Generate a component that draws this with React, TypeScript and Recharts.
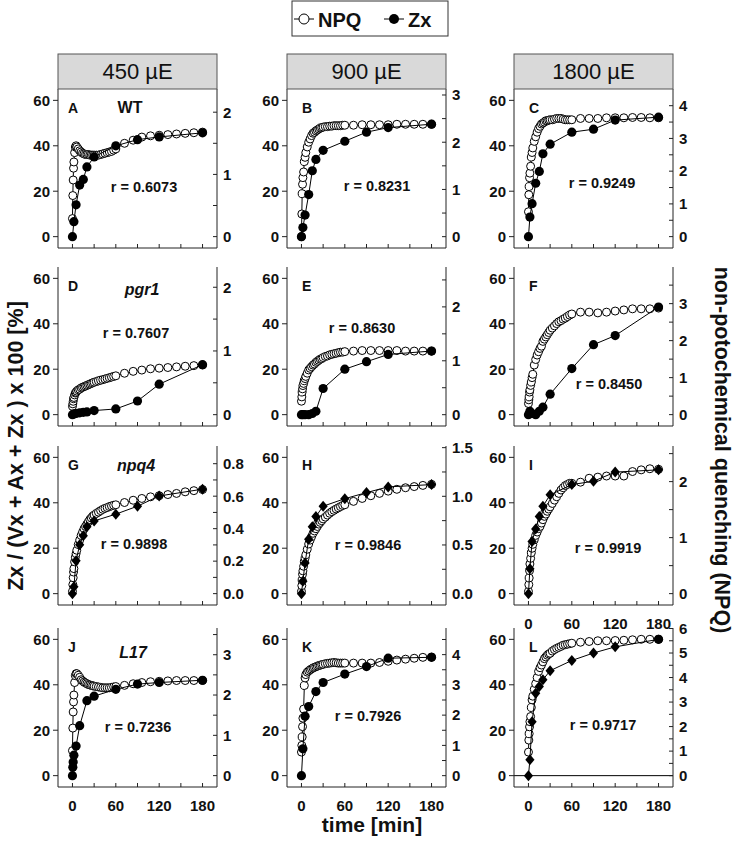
import React from 'react';
import { ComposedChart, Scatter, XAxis, YAxis, ReferenceLine } from 'recharts';

// ---------- time bases ----------
const NPQ_T = [0, 0.5, 1, 1.5, 2, 3, 4, 5, 6, 8, 10, 12, 14, 16, 18, 20, 22, 24, 26, 28, 30, 33, 36, 39, 42, 45, 48, 51, 54, 57, 60, 72, 84, 96, 108, 120, 132, 144, 156, 168, 180];
const ZX_T = [0, 2, 5, 10, 15, 20, 30, 60, 90, 120, 180];
const ZX_T_J = [0, 0.5, 1, 2, 5, 10, 20, 30, 60, 90, 120, 180];
const ZX_T_K = [0, 2, 5, 10, 20, 30, 60, 90, 120, 180];

// ---------- axis ticks ----------
const X_TICKS = [0, 30, 60, 90, 120, 150, 180];
const X_LABELS = [0, 60, 120, 180];
const LEFT_TICKS = [0, 20, 40, 60];
const LEFT_MINOR = [10, 30, 50];
const LIGHTS = ['450 µE', '900 µE', '1800 µE'];
const GENOTYPES = ['WT', 'pgr1', 'npq4', 'L17'];

const rTicksA = [0, 0.5, 1, 1.5, 2];
const rTicksB = [0, 0.5, 1, 1.5, 2, 2.5, 3];
const rTicksC = [0, 0.5, 1, 1.5, 2, 2.5, 3, 3.5, 4];
const rTicksD = [0, 0.5, 1, 1.5, 2];
const rTicksE = [0, 0.5, 1, 1.5, 2, 2.5];
const rTicksF = [0, 0.5, 1, 1.5, 2, 2.5, 3, 3.5];
const rTicksG = [0, 0.1, 0.2, 0.3, 0.4, 0.5, 0.6, 0.7, 0.8];
const rTicksH = [0, 0.25, 0.5, 0.75, 1, 1.25, 1.5];
const rTicksI = [0, 0.5, 1, 1.5, 2, 2.5];
const rTicksJ = [0, 0.5, 1, 1.5, 2, 2.5, 3, 3.5];
const rTicksK = [0, 0.5, 1, 1.5, 2, 2.5, 3, 3.5, 4, 4.5];
const rTicksL = [0, 0.5, 1, 1.5, 2, 2.5, 3, 3.5, 4, 4.5, 5, 5.5, 6];

// ---------- NPQ series (right axis units) ----------
const npqA = [0.29, 0.66, 0.91, 1.10, 1.20, 1.35, 1.44, 1.46, 1.44, 1.41, 1.38, 1.36, 1.34, 1.33, 1.32, 1.32, 1.32, 1.31, 1.31, 1.31, 1.31, 1.31, 1.31, 1.32, 1.33, 1.34, 1.35, 1.36, 1.37, 1.39, 1.41, 1.50, 1.55, 1.60, 1.62, 1.63, 1.64, 1.65, 1.66, 1.67, 1.68];
const npqB = [0, 0.48, 0.91, 1.11, 1.25, 1.37, 1.59, 1.68, 1.78, 1.90, 2.00, 2.07, 2.14, 2.19, 2.21, 2.24, 2.26, 2.28, 2.30, 2.31, 2.32, 2.33, 2.33, 2.34, 2.34, 2.35, 2.35, 2.35, 2.35, 2.36, 2.36, 2.36, 2.37, 2.37, 2.37, 2.37, 2.38, 2.38, 2.38, 2.38, 2.38];
const npqC = [0.76, 1.28, 1.53, 1.80, 1.94, 2.15, 2.43, 2.57, 2.71, 2.91, 3.05, 3.19, 3.30, 3.37, 3.44, 3.47, 3.50, 3.54, 3.54, 3.56, 3.57, 3.57, 3.59, 3.61, 3.61, 3.61, 3.59, 3.57, 3.57, 3.57, 3.57, 3.61, 3.61, 3.61, 3.63, 3.63, 3.63, 3.64, 3.64, 3.63, 3.63];
const npqD = [0.13, 0.17, 0.21, 0.25, 0.27, 0.31, 0.34, 0.35, 0.37, 0.39, 0.40, 0.42, 0.43, 0.44, 0.45, 0.46, 0.47, 0.48, 0.49, 0.50, 0.51, 0.52, 0.53, 0.54, 0.55, 0.56, 0.57, 0.58, 0.59, 0.60, 0.61, 0.65, 0.68, 0.70, 0.72, 0.73, 0.74, 0.75, 0.76, 0.77, 0.78];
const npqE = [0.25, 0.33, 0.42, 0.48, 0.54, 0.58, 0.63, 0.67, 0.71, 0.77, 0.83, 0.86, 0.89, 0.92, 0.94, 0.97, 0.99, 1.01, 1.03, 1.04, 1.06, 1.08, 1.09, 1.11, 1.12, 1.13, 1.14, 1.15, 1.16, 1.16, 1.17, 1.18, 1.19, 1.19, 1.19, 1.19, 1.19, 1.18, 1.18, 1.18, 1.18];
const npqF = [0.30, 0.40, 0.48, 0.61, 0.67, 0.79, 0.88, 1.00, 1.09, 1.34, 1.49, 1.61, 1.70, 1.79, 1.85, 1.98, 2.04, 2.10, 2.16, 2.22, 2.28, 2.34, 2.40, 2.46, 2.51, 2.54, 2.58, 2.61, 2.65, 2.69, 2.72, 2.77, 2.77, 2.75, 2.77, 2.80, 2.83, 2.86, 2.86, 2.86, 2.88];
const npqG = [0.014, 0.056, 0.098, 0.133, 0.154, 0.196, 0.224, 0.246, 0.267, 0.302, 0.330, 0.358, 0.379, 0.400, 0.414, 0.428, 0.442, 0.456, 0.466, 0.477, 0.484, 0.494, 0.502, 0.511, 0.519, 0.525, 0.530, 0.536, 0.540, 0.544, 0.547, 0.561, 0.575, 0.586, 0.596, 0.603, 0.610, 0.617, 0.627, 0.634, 0.641];
const npqH = [0.023, 0.082, 0.140, 0.199, 0.234, 0.281, 0.328, 0.363, 0.398, 0.456, 0.510, 0.550, 0.585, 0.620, 0.644, 0.667, 0.690, 0.714, 0.732, 0.749, 0.768, 0.786, 0.807, 0.826, 0.842, 0.856, 0.870, 0.882, 0.894, 0.906, 0.913, 0.948, 0.978, 1.006, 1.030, 1.053, 1.072, 1.088, 1.100, 1.112, 1.123];
const npqI = [0.04, 0.16, 0.28, 0.41, 0.53, 0.63, 0.73, 0.81, 0.88, 0.96, 1.04, 1.10, 1.16, 1.20, 1.26, 1.32, 1.38, 1.42, 1.47, 1.51, 1.55, 1.61, 1.67, 1.73, 1.79, 1.85, 1.89, 1.93, 1.95, 1.97, 1.97, 1.99, 2.06, 2.08, 2.10, 2.10, 2.10, 2.18, 2.21, 2.23, 2.22];
const npqJ = [0.62, 1.18, 1.58, 1.83, 2.00, 2.31, 2.48, 2.53, 2.53, 2.49, 2.44, 2.38, 2.35, 2.32, 2.30, 2.28, 2.26, 2.25, 2.24, 2.23, 2.22, 2.21, 2.20, 2.19, 2.18, 2.18, 2.18, 2.18, 2.19, 2.20, 2.21, 2.24, 2.28, 2.31, 2.33, 2.34, 2.35, 2.36, 2.36, 2.36, 2.36];
const npqK = [0.78, 1.00, 1.28, 1.62, 1.90, 2.20, 2.98, 3.23, 3.34, 3.42, 3.46, 3.50, 3.53, 3.56, 3.58, 3.60, 3.62, 3.64, 3.65, 3.67, 3.68, 3.70, 3.71, 3.72, 3.73, 3.74, 3.73, 3.72, 3.72, 3.72, 3.72, 3.72, 3.72, 3.72, 3.74, 3.78, 3.82, 3.85, 3.88, 3.91, 3.92];
const npqL = [0.96, 1.45, 1.71, 1.99, 2.20, 2.41, 2.78, 3.09, 3.24, 3.52, 3.75, 4.00, 4.25, 4.40, 4.51, 4.64, 4.77, 4.84, 4.91, 4.96, 4.99, 5.08, 5.14, 5.19, 5.23, 5.27, 5.32, 5.34, 5.36, 5.38, 5.40, 5.44, 5.47, 5.50, 5.50, 5.51, 5.52, 5.54, 5.56, 5.56, 5.56];

// ---------- Zx series (% , left axis) ----------
const zxA = [0, 6.6, 14, 22.7, 25.2, 30.7, 35.1, 40, 42.7, 43.9, 45.7];
const zxB = [0, 4, 9.5, 18.5, 29, 34, 38, 42, 46, 48, 49.5];
const zxC = [0, 8.6, 14.5, 23.5, 28.7, 36.5, 40.7, 46, 47.3, 51.3, 52.6];
const zxD = [0, 0.3, 0.5, 0.8, 1.0, 1.2, 1.8, 2.5, 6, 13.4, 22];
const zxE = [0, 0, 0, 0, 0.5, 1.5, 11.5, 20, 23.3, 26.5, 28];
const zxF = [0, 1.5, 0.5, 0, 1.5, 3.3, 9, 20.3, 30.8, 34.8, 47.4];
const zxG = [0, 3, 14.5, 21.5, 25.5, 29.5, 32, 35, 38.5, 43, 46];
const zxH = [0, 5.5, 13.5, 24, 29.5, 34, 38.5, 41.8, 44.5, 47, 48];
const zxI = [0, 11, 23, 28.5, 34, 38.5, 43.5, 48, 49.5, 53.5, 54.5];
const zxJ = [0, 3.7, 6, 9, 13, 22, 33, 35, 38, 40.3, 41, 42];
const zxK = [0, 11.8, 26.2, 30.4, 37, 41, 44.7, 48, 51.7, 52.1];
const zxL = [0, 7, 23.7, 36.3, 39.3, 42.2, 46.2, 50.7, 54, 56.7, 60];

const R_VALUES = ['0.6073', '0.8231', '0.9249', '0.7607', '0.8630', '0.8450', '0.9898', '0.9846', '0.9919', '0.7236', '0.7926', '0.9717'];

// ---------- layout ----------
const PLOT = 159;
const COL_X = [58, 287, 514];
const ROW_Y = [89, 267, 446, 628];
const LEFT_W = 45;
const RIGHT_W = 40;
const TOP_M = 12;
const BOTTOM_H = 34;
const FONT = '"Liberation Sans", Arial, Helvetica, sans-serif';

type Panel = {
  id: string; row: number; col: number;
  npq: number[]; zxT: number[]; zx: number[];
  rDom: [number, number]; rTicks: number[]; rMajor: number[]; dec: number;
  rx: number; ry: number; mark: 'circle' | 'diamond';
  xLabels: boolean; zeroLine?: boolean; lastCircle?: boolean;
};

const PANELS: Panel[] = [
  { id: 'A', row: 0, col: 0, npq: npqA, zxT: ZX_T, zx: zxA, rDom: [-0.183, 2.373], rTicks: rTicksA, rMajor: [0, 1, 2], dec: 0, rx: 86, ry: 98, mark: 'circle', xLabels: false },
  { id: 'B', row: 0, col: 1, npq: npqB, zxT: ZX_T, zx: zxB, rDom: [-0.24, 3.127], rTicks: rTicksB, rMajor: [0, 1, 2, 3], dec: 0, rx: 90, ry: 97, mark: 'circle', xLabels: false },
  { id: 'C', row: 0, col: 2, npq: npqC, zxT: ZX_T, zx: zxC, rDom: [-0.347, 4.51], rTicks: rTicksC, rMajor: [0, 1, 2, 3, 4], dec: 0, rx: 88, ry: 94, mark: 'circle', xLabels: false },
  { id: 'D', row: 1, col: 0, npq: npqD, zxT: ZX_T, zx: zxD, rDom: [-0.178, 2.318], rTicks: rTicksD, rMajor: [0, 1, 2], dec: 0, rx: 78, ry: 66, mark: 'circle', xLabels: false },
  { id: 'E', row: 1, col: 1, npq: npqE, zxT: ZX_T, zx: zxE, rDom: [-0.21, 2.74], rTicks: rTicksE, rMajor: [0, 1, 2], dec: 0, rx: 75, ry: 61, mark: 'circle', xLabels: false },
  { id: 'F', row: 1, col: 2, npq: npqF, zxT: ZX_T, zx: zxF, rDom: [-0.307, 3.99], rTicks: rTicksF, rMajor: [0, 1, 2, 3], dec: 0, rx: 95, ry: 117, mark: 'circle', xLabels: false },
  { id: 'G', row: 2, col: 0, npq: npqG, zxT: ZX_T, zx: zxG, rDom: [-0.07, 0.909], rTicks: rTicksG, rMajor: [0, 0.2, 0.4, 0.6, 0.8], dec: 1, rx: 76, ry: 98, mark: 'diamond', xLabels: false },
  { id: 'H', row: 2, col: 1, npq: npqH, zxT: ZX_T, zx: zxH, rDom: [-0.117, 1.517], rTicks: rTicksH, rMajor: [0, 0.5, 1, 1.5], dec: 1, rx: 81, ry: 99, mark: 'diamond', xLabels: false },
  { id: 'I', row: 2, col: 2, npq: npqI, zxT: ZX_T, zx: zxI, rDom: [-0.203, 2.636], rTicks: rTicksI, rMajor: [0, 1, 2], dec: 0, rx: 94, ry: 102, mark: 'diamond', xLabels: true },
  { id: 'J', row: 3, col: 0, npq: npqJ, zxT: ZX_T_J, zx: zxJ, rDom: [-0.282, 3.663], rTicks: rTicksJ, rMajor: [0, 1, 2, 3], dec: 0, rx: 80, ry: 99, mark: 'circle', xLabels: true },
  { id: 'K', row: 3, col: 1, npq: npqK, zxT: ZX_T_K, zx: zxK, rDom: [-0.375, 4.88], rTicks: rTicksK, rMajor: [0, 1, 2, 3, 4], dec: 0, rx: 81, ry: 88, mark: 'circle', xLabels: true },
  { id: 'L', row: 3, col: 2, npq: npqL, zxT: ZX_T, zx: zxL, rDom: [-0.463, 6.02], rTicks: rTicksL, rMajor: [0, 1, 2, 3, 4, 5, 6], dec: 0, rx: 89, ry: 97, mark: 'diamond', xLabels: true, zeroLine: true, lastCircle: true },
];

const GENO_POS = [
  { cx: 72, by: 24, italic: false },
  { cx: 84, by: 28, italic: true },
  { cx: 78, by: 25, italic: true },
  { cx: 75, by: 30, italic: true },
];

const tickStyle = { fontSize: 15, fontWeight: 700, fill: '#111', fontFamily: FONT };

const OpenDot = (props: any) => {
  const { cx, cy } = props;
  if (cx == null || cy == null) return <g />;
  return <circle cx={cx} cy={cy} r={4} fill="#fff" stroke="#000" strokeWidth={1} />;
};

const makeZxShape = (mark: string, lastCircle?: boolean) => (props: any) => {
  const { cx, cy, payload } = props;
  if (cx == null || cy == null) return <g />;
  if (mark === 'diamond' && !(lastCircle && payload && payload.t === 180)) {
    return <polygon points={`${cx},${cy - 5.5} ${cx + 4.6},${cy} ${cx},${cy + 5.5} ${cx - 4.6},${cy}`} fill="#000" />;
  }
  return <circle cx={cx} cy={cy} r={4.6} fill="#000" />;
};

function PanelChart({ p }: { p: Panel }) {
  const npqData = NPQ_T.map((t, i) => ({ t, v: p.npq[i] }));
  const zxData = p.zxT.map((t, i) => ({ t, v: p.zx[i] }));
  const fmtX = (v: number) => (p.xLabels && X_LABELS.includes(v) ? String(v) : '');
  const fmtR = (v: number) => (p.rMajor.includes(v) ? v.toFixed(p.dec) : '');
  return (
    <ComposedChart
      width={LEFT_W + PLOT + RIGHT_W}
      height={TOP_M + PLOT + BOTTOM_H}
      margin={{ top: TOP_M, right: 0, bottom: 0, left: 0 }}
    >
      <XAxis xAxisId="b" type="number" dataKey="t" domain={[-20, 200]} allowDataOverflow ticks={X_TICKS} interval={0}
        orientation="bottom" height={BOTTOM_H} tickSize={-4} tickMargin={17} tickFormatter={fmtX}
        tick={tickStyle} stroke="#222" axisLine={{ stroke: '#222' }} tickLine={{ stroke: '#222' }} />
      <XAxis xAxisId="tp" type="number" dataKey="t" domain={[-20, 200]} allowDataOverflow ticks={X_TICKS} interval={0}
        orientation="top" mirror height={0} tickSize={4} tickFormatter={() => ''}
        axisLine={{ stroke: '#222' }} tickLine={{ stroke: '#222' }} />
      <YAxis yAxisId="L" type="number" dataKey="v" domain={[-5, 65]} allowDataOverflow ticks={LEFT_TICKS} interval={0}
        orientation="left" width={LEFT_W} tickSize={5} tickMargin={3} tick={tickStyle}
        axisLine={{ stroke: '#222' }} tickLine={{ stroke: '#222' }} />
      <YAxis yAxisId="Lm" type="number" dataKey="v" domain={[-5, 65]} allowDataOverflow ticks={LEFT_MINOR} interval={0}
        orientation="left" mirror width={0} tickSize={4} tickFormatter={() => ''}
        axisLine={false} tickLine={{ stroke: '#222' }} />
      <YAxis yAxisId="R" type="number" dataKey="v" domain={p.rDom} allowDataOverflow ticks={p.rTicks} interval={0}
        orientation="right" width={RIGHT_W} tickSize={-4} tickMargin={10} tickFormatter={fmtR} tick={tickStyle}
        axisLine={{ stroke: '#222' }} tickLine={{ stroke: '#222' }} />
      {p.zeroLine && (
        <ReferenceLine xAxisId="b" yAxisId="L" y={0} stroke="#000" strokeWidth={1} />
      )}
      <Scatter name="NPQ" data={npqData} xAxisId="b" yAxisId="R" line={{ stroke: '#000', strokeWidth: 1 }}
        lineType="joint" shape={OpenDot} isAnimationActive={false} />
      <Scatter name="Zx" data={zxData} xAxisId="b" yAxisId="L" line={{ stroke: '#000', strokeWidth: 1 }}
        lineType="joint" shape={makeZxShape(p.mark, p.lastCircle)} isAnimationActive={false} />
    </ComposedChart>
  );
}

export default function App() {
  return (
    <div style={{ position: 'absolute', left: 0, top: 0, width: 737, height: 845, background: '#fff', fontFamily: FONT, overflow: 'hidden' }}>
      {PANELS.map((p) => (
        <div key={p.id} style={{ position: 'absolute', left: COL_X[p.col] - LEFT_W, top: ROW_Y[p.row] - TOP_M }}>
          <PanelChart p={p} />
        </div>
      ))}
      <svg width={737} height={845} style={{ position: 'absolute', left: 0, top: 0, pointerEvents: 'none' }} fontFamily={FONT}>
        {/* legend */}
        <rect x={292} y={1} width={156} height={35} fill="#fff" stroke="#333" strokeWidth={1} />
        <line x1={294} x2={314} y1={19} y2={19} stroke="#000" strokeWidth={1} />
        <circle cx={304} cy={19} r={5} fill="#fff" stroke="#000" strokeWidth={1} />
        <text x={318} y={26.5} fontSize={20} fontWeight={700} fill="#111">NPQ</text>
        <line x1={384} x2={404} y1={19} y2={19} stroke="#000" strokeWidth={1} />
        <circle cx={394} cy={19} r={5} fill="#000" />
        <text x={408} y={26.5} fontSize={20} fontWeight={700} fill="#111">Zx</text>

        {/* light headers */}
        {LIGHTS.map((l, i) => (
          <g key={l}>
            <rect x={COL_X[i]} y={54} width={PLOT} height={35} fill="#d9d9d9" stroke="#555" strokeWidth={1} />
            <text x={COL_X[i] + PLOT / 2} y={79} textAnchor="middle" fontSize={22} fill="#111">{l}</text>
          </g>
        ))}

        {/* panel letters and r values */}
        {PANELS.map((p, i) => (
          <g key={'t' + p.id}>
            <text x={COL_X[p.col] + (p.col === 0 ? 10 : 15)} y={ROW_Y[p.row] + 24} fontSize={14} fontWeight={700} fill="#111">{p.id}</text>
            <text x={COL_X[p.col] + p.rx} y={ROW_Y[p.row] + p.ry} textAnchor="middle" dominantBaseline="central" fontSize={14.5} fontWeight={700} fill="#111">{'r = ' + R_VALUES[i]}</text>
          </g>
        ))}

        {/* genotype labels */}
        {GENOTYPES.map((g, i) => (
          <text key={g} x={COL_X[0] + GENO_POS[i].cx} y={ROW_Y[i] + GENO_POS[i].by} textAnchor="middle" fontSize={16} fontWeight={700}
            fontStyle={GENO_POS[i].italic ? 'italic' : 'normal'} fill="#111">{g}</text>
        ))}

        {/* axis titles */}
        <text x={23} y={446} transform="rotate(-90 23 446)" textAnchor="middle" fontSize={21.5} fontWeight={700} fill="#111">
          {'Zx / (Vx + Ax + Zx ) x 100  [%]'}
        </text>
        <text x={715} y={450} transform="rotate(90 715 450)" textAnchor="middle" fontSize={21.5} fontWeight={700} fill="#111">
          non-potochemical quenching (NPQ)
        </text>
        <text x={372} y={832} textAnchor="middle" fontSize={21} fontWeight={700} fill="#111">time [min]</text>
      </svg>
    </div>
  );
}
